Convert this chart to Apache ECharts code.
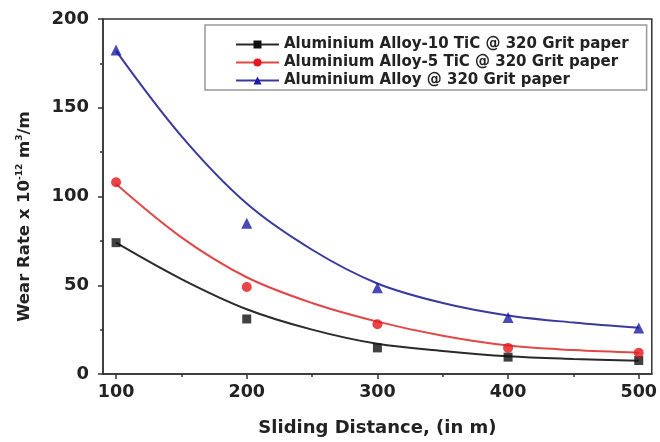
<!DOCTYPE html>
<html>
<head>
<meta charset="utf-8">
<script src="https://cdn.jsdelivr.net/npm/echarts@6/dist/echarts.min.js"></script>
<style>
html,body{margin:0;padding:0;background:#fff;}
#main{width:660px;height:442px;}
</style>
</head>
<body>
<div id="main"></div>
<script>
// Measured points
var distances = [100, 200, 300, 400, 500];
var alloy10TiC = [74, 31, 14.7, 9.5, 7.6];
var alloy5TiC = [108, 49, 28, 14.7, 12];
var alloyBase = [182.5, 85, 48.6, 31.8, 25.9];

// Fitted curves
var fitDistances = [100, 150, 200, 250, 300, 350, 400, 450, 500];
var fit10TiC = [74, 53.5, 36.5, 25, 17, 13, 10, 8.5, 7.5];
var fit5TiC = [107, 77, 54.5, 40, 29.5, 21.5, 16, 13.5, 12];
var fitBase = [182, 134, 96, 70, 51, 40, 33, 29, 26];

var names = [
  'Aluminium Alloy-10 TiC @ 320 Grit paper',
  'Aluminium Alloy-5 TiC @ 320 Grit paper',
  'Aluminium Alloy @ 320 Grit paper'
];
var xMajor = [100, 200, 300, 400, 500];
var xMinor = [150, 250, 350, 450];

function pairs(xs, ys) { return xs.map(function (x, i) { return [x, ys[i]]; }); }

var FONT = 'DejaVu Sans';
var colors = ['#111111', '#e3171c', '#1c1ca6'];
var lineColors = ['#2a2a2a', '#e04848', '#3a3a9c'];
var symbols = ['rect', 'circle', 'triangle'];
var sizes = [9, 10, 11];
var fits = [fit10TiC, fit5TiC, fitBase];
var pts = [alloy10TiC, alloy5TiC, alloyBase];

var series = [];
for (var i = 0; i < 3; i++) {
  series.push({
    name: names[i], type: 'line', smooth: 0.35, data: pairs(fitDistances, fits[i]),
    showSymbol: false, symbol: symbols[i], symbolSize: sizes[i],
    lineStyle: { color: lineColors[i], width: 2 },
    itemStyle: { color: colors[i] }, z: 2, silent: true
  });
}
for (var j = 0; j < 3; j++) {
  series.push({
    name: 'pts' + j, type: 'scatter', data: pairs(distances, pts[j]),
    symbol: symbols[j], symbolSize: sizes[j],
    itemStyle: { color: colors[j] }, z: 3, silent: true
  });
}

var chart = echarts.init(document.getElementById('main'), null, { renderer: 'canvas' });
chart.setOption({
  animation: false,
  backgroundColor: '#ffffff',
  grid: { left: 103, right: 7, top: 19, bottom: 65, show: true, borderColor: '#333', borderWidth: 1.5 },
  legend: {
    data: names, orient: 'vertical', left: 205, top: 25,
    padding: [12, 18, 2, 30], itemGap: 3, itemWidth: 43, itemHeight: 10,
    borderColor: '#999', borderWidth: 1.5,
    textStyle: { fontFamily: FONT, fontWeight: 'bold', fontSize: 15, color: '#222' }
  },
  xAxis: [{
    type: 'value', min: 90, max: 510,
    splitLine: { show: false },
    axisLine: { lineStyle: { color: '#333', width: 1.5 } },
    axisTick: { show: true, customValues: xMajor, length: 5, lineStyle: { color: '#333', width: 1.5 } },
    axisLabel: { customValues: xMajor, fontFamily: FONT, fontWeight: 'bold', fontSize: 17.5, color: '#222', margin: 9 },
    name: 'Sliding Distance, (in m)', nameLocation: 'middle', nameGap: 45,
    nameTextStyle: { fontFamily: FONT, fontWeight: 'bold', fontSize: 18, color: '#222' }
  }, {
    type: 'value', min: 90, max: 510, position: 'bottom',
    splitLine: { show: false },
    axisLine: { show: false },
    axisTick: { show: true, customValues: xMinor, length: 3, lineStyle: { color: '#333', width: 1.5 } },
    axisLabel: { show: false }
  }],
  yAxis: {
    type: 'value', min: 0, max: 200, interval: 50,
    splitLine: { show: false },
    axisLine: { show: true, lineStyle: { color: '#333', width: 1.5 } },
    axisTick: { show: true, length: 5, lineStyle: { color: '#333', width: 1.5 } },
    minorTick: { show: true, splitNumber: 2, length: 3, lineStyle: { color: '#333', width: 1.5 } },
    axisLabel: { fontFamily: FONT, fontWeight: 'bold', fontSize: 18, color: '#222', margin: 14 },
    name: '{a|Wear Rate x 10}{s|-12}{a| m}{s|3}{a|/m}',
    nameLocation: 'middle', nameGap: 68,
    nameTextStyle: {
      padding: [0, 40, 0, 0],
      rich: {
        a: { fontFamily: FONT, fontWeight: 'bold', fontSize: 16.5, color: '#222', lineHeight: 20 },
        s: { fontFamily: FONT, fontWeight: 'bold', fontSize: 9, color: '#222', lineHeight: 20, verticalAlign: 'top', padding: [0, 0, 8, 0] }
      }
    }
  },
  series: series
});
</script>
</body>
</html>
